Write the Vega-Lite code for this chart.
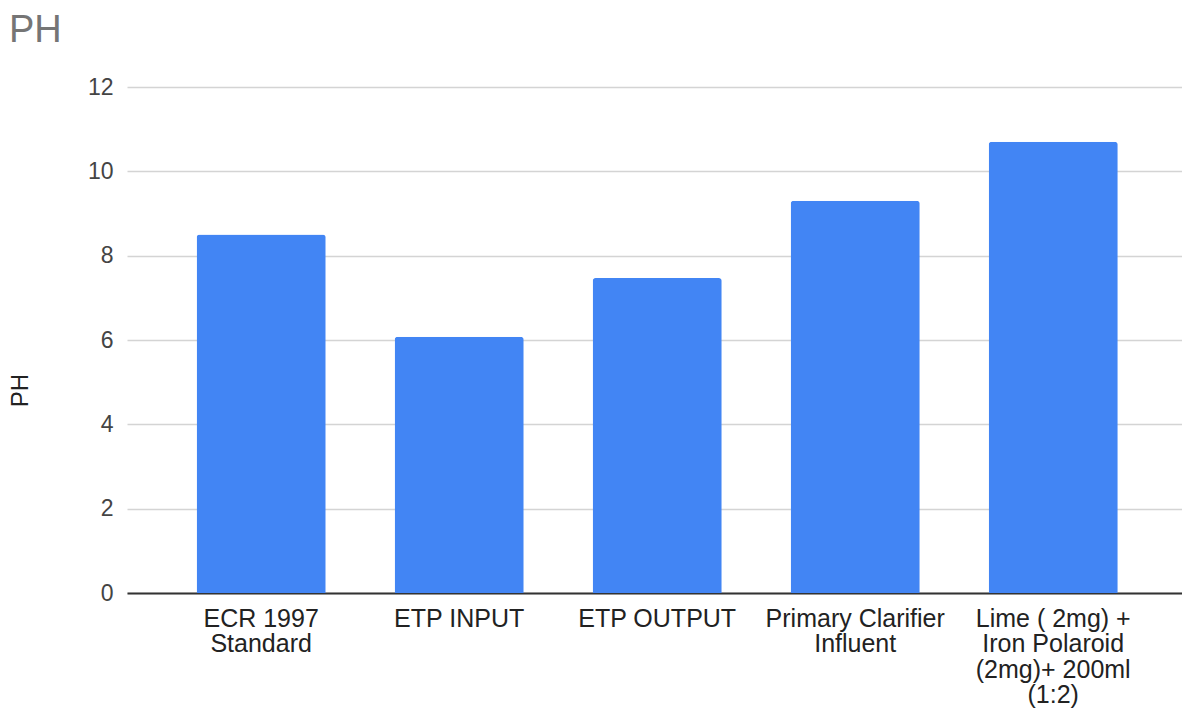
{
  "$schema": "https://vega.github.io/schema/vega-lite/v6.json",
  "autosize": "none",
  "width": 1055,
  "height": 506,
  "padding": {"left": 127, "top": 87, "right": 0, "bottom": 120},
  "background": "#ffffff",
  "title": {
    "text": "PH",
    "anchor": "start",
    "frame": "group",
    "dx": -118,
    "dy": 34,
    "fontSize": 38,
    "fontWeight": "normal",
    "font": "Liberation Sans, Arial",
    "color": "#757575",
    "baseline": "alphabetic",
    "offset": 30
  },
  "data": {
    "values": [
      {"sample": "ECR 1997\nStandard", "ph": 8.5},
      {"sample": "ETP INPUT", "ph": 6.08},
      {"sample": "ETP OUTPUT", "ph": 7.47},
      {"sample": "Primary Clarifier\nInfluent", "ph": 9.3},
      {"sample": "Lime ( 2mg) +\nIron Polaroid\n(2mg)+ 200ml\n(1:2)", "ph": 10.7}
    ]
  },
  "mark": {
    "type": "bar",
    "color": "#4285F4",
    "cornerRadiusTopLeft": 3,
    "cornerRadiusTopRight": 3
  },
  "encoding": {
    "x": {
      "field": "sample",
      "type": "nominal",
      "sort": null,
      "scale": {"paddingInner": 0.348, "paddingOuter": 0.338, "align": 0.52},
      "axis": {
        "title": null,
        "labelAngle": 0,
        "labelExpr": "split(datum.label, '\\n')",
        "labelFont": "Liberation Sans, Arial",
        "labelFontSize": 25,
        "labelColor": "#222222",
        "labelLineHeight": 25.5,
        "labelPadding": 13,
        "labelLimit": 400,
        "labelBaseline": "top",
        "ticks": false,
        "tickSize": 0,
        "domainColor": "#333333",
        "domainWidth": 2,
        "grid": false
      }
    },
    "y": {
      "field": "ph",
      "type": "quantitative",
      "scale": {"domain": [0, 12], "nice": false},
      "axis": {
        "title": "PH",
        "titleFont": "Liberation Sans, Arial",
        "titleFontSize": 24,
        "titleFontWeight": "normal",
        "titleColor": "#222222",
        "titleAngle": -90,
        "titleAlign": "center",
        "titleBaseline": "alphabetic",
        "titleX": -100,
        "titleY": 303,
        "values": [0, 2, 4, 6, 8, 10, 12],
        "labelFont": "Liberation Sans, Arial",
        "labelFontSize": 23,
        "labelColor": "#444444",
        "labelPadding": 14,
        "ticks": false,
        "tickSize": 0,
        "domain": false,
        "grid": true,
        "gridColor": "#d4d4d4",
        "gridWidth": 1.5
      }
    }
  },
  "config": {
    "view": {"stroke": null}
  }
}
